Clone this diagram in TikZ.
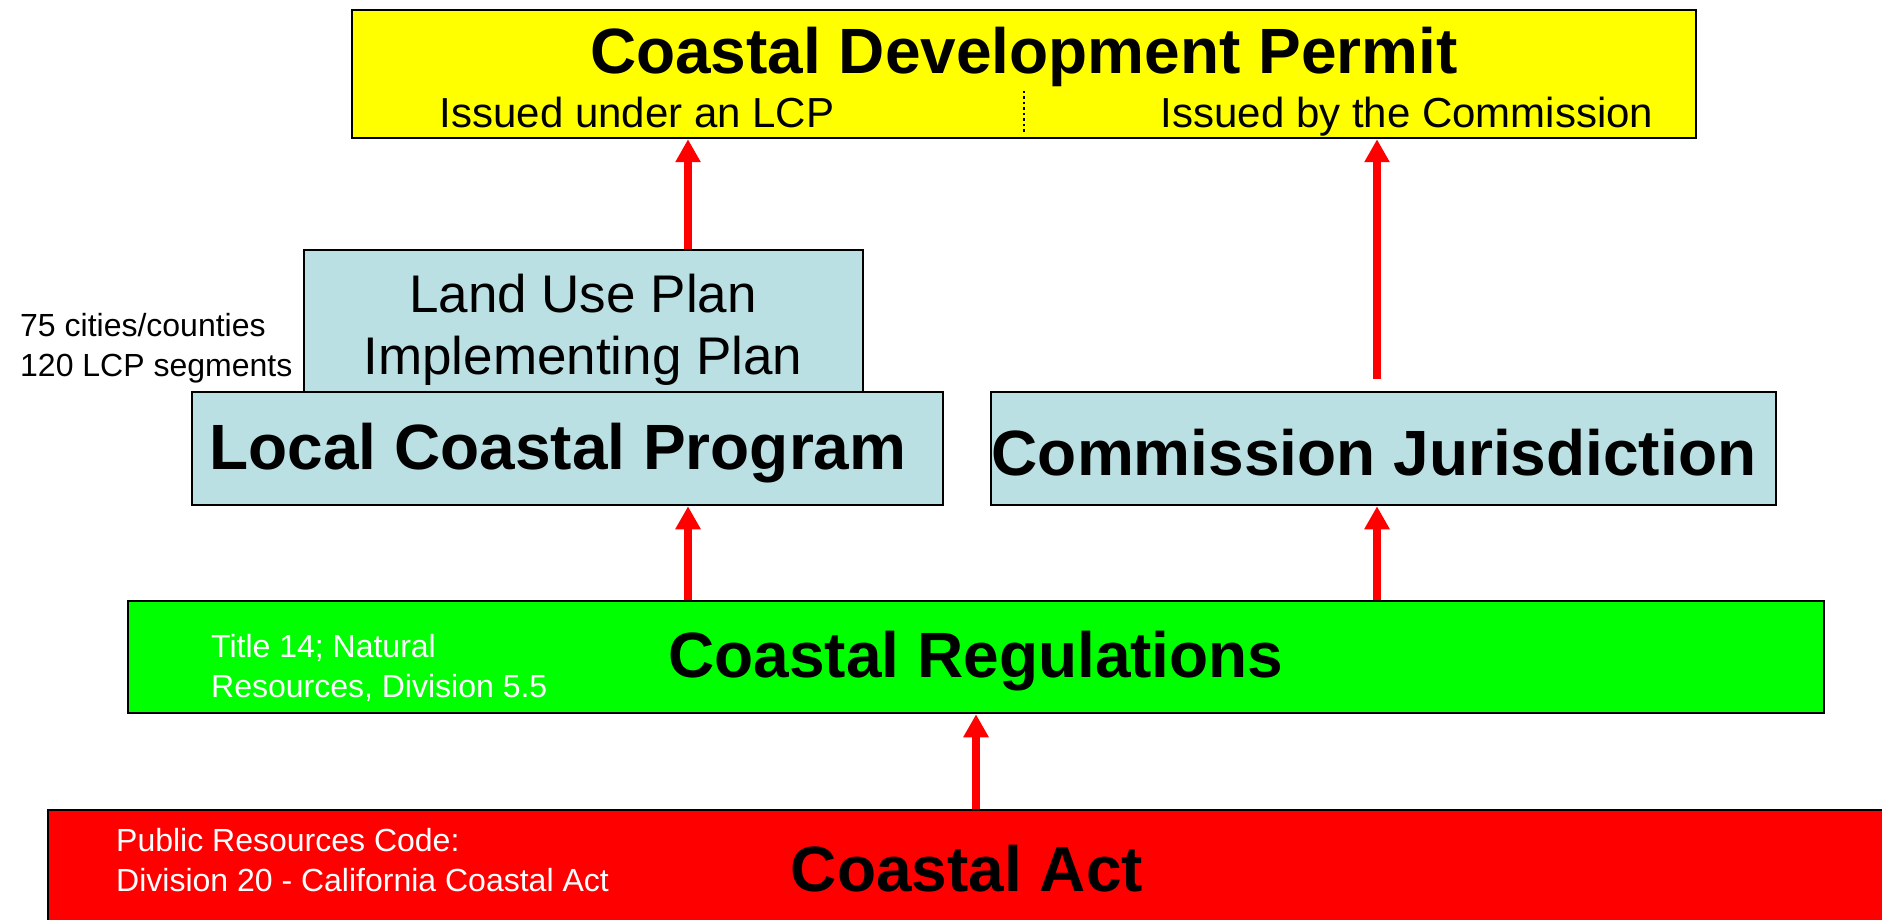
\documentclass[tikz,border=0pt]{standalone}
\usepackage{fontspec}
\setmainfont{Liberation Sans}
\usetikzlibrary{arrows.meta}
\definecolor{lblue}{RGB}{187,224,227}
\definecolor{pyellow}{RGB}{255,255,0}
\definecolor{pgreen}{RGB}{0,255,0}
\definecolor{pred}{RGB}{255,0,0}
\tikzset{
  box/.style={draw=black, line width=2.5pt, inner sep=0pt},
  arr/.style={draw=pred, line width=8pt, -{Triangle[width=24pt,length=23pt]}},
  big/.style={font=\fontsize{64}{70}\selectfont\bfseries, inner sep=0pt},
  mid/.style={font=\fontsize{42}{50}\selectfont, inner sep=0pt, anchor=base},
  lup/.style={font=\fontsize{53}{62}\selectfont, inner sep=0pt, align=center},
  small/.style={font=\fontsize{32}{40}\selectfont, inner sep=0pt, align=left, anchor=west}
}
\begin{document}
\begin{tikzpicture}[x=1pt,y=-1pt]
\useasboundingbox (0,0) rectangle (1882,920);
\clip (0,0) rectangle (1882,920);
\fill[white] (0,0) rectangle (1882,920);
% boxes
\node[box, fill=pyellow, minimum width=1344pt, minimum height=128pt] (cdp) at (1024,74) {};
\node[box, fill=lblue, minimum width=559pt, minimum height=142pt] (lup) at (583.5,321) {};
\node[box, fill=lblue, minimum width=751pt, minimum height=113pt] (lcp) at (567.5,448.5) {};
\node[box, fill=lblue, minimum width=785pt, minimum height=113pt] (cj) at (1383.5,448.5) {};
\node[box, fill=pgreen, minimum width=1696pt, minimum height=112pt] (green) at (976,657) {};
\node[box, fill=pred, minimum width=1880pt, minimum height=140pt] (red) at (988,880) {};
% texts
\node[big] (tcdp) at (1024,57) {Coastal Development Permit};
\node[mid] (tlcp) at (637,128) {Issued under an LCP};
\node[mid] (tcom) at (1407,128) {Issued by the Commission};
\coordinate (dtop) at (1024,91);
\coordinate (dbot) at (1024,134);
\draw[black, line width=2.5pt, dash pattern=on 2.5pt off 3pt] (dtop) -- (dbot);
\node[lup] (tlup) at (583,330) {Land Use Plan\\Implementing Plan};
\node[big] (tlcpb) at (558,453) {Local Coastal Program};
\node[big] (tcj) at (1374,453) {Commission Jurisdiction};
\node[small] (tcities) at (20,348) {75 cities/counties\\120 LCP segments};
\node[small, text=white] (ttitle) at (211,668) {Title 14; Natural\\Resources, Division 5.5};
\node[big] (treg) at (976,661) {Coastal Regulations};
\node[small, text=white] (tprc) at (116,860) {Public Resources Code:\\Division 20 - California Coastal Act};
\node[big] (tact) at (967,869) {Coastal Act};
% arrows
\coordinate (x1) at (688,0);
\coordinate (x2) at (1377,0);
\coordinate (x3) at (976,0);
\coordinate (cjtop) at (1377,379);
\draw[arr] (x1 |- lup.north) -- (x1 |- cdp.south);
\draw[arr] (cjtop) -- (cjtop |- cdp.south);
\draw[arr] (x1 |- green.north) -- (x1 |- lcp.south);
\draw[arr] (x2 |- green.north) -- (x2 |- cj.south);
\draw[arr] (x3 |- red.north) -- (x3 |- green.south);
\end{tikzpicture}
\end{document}
